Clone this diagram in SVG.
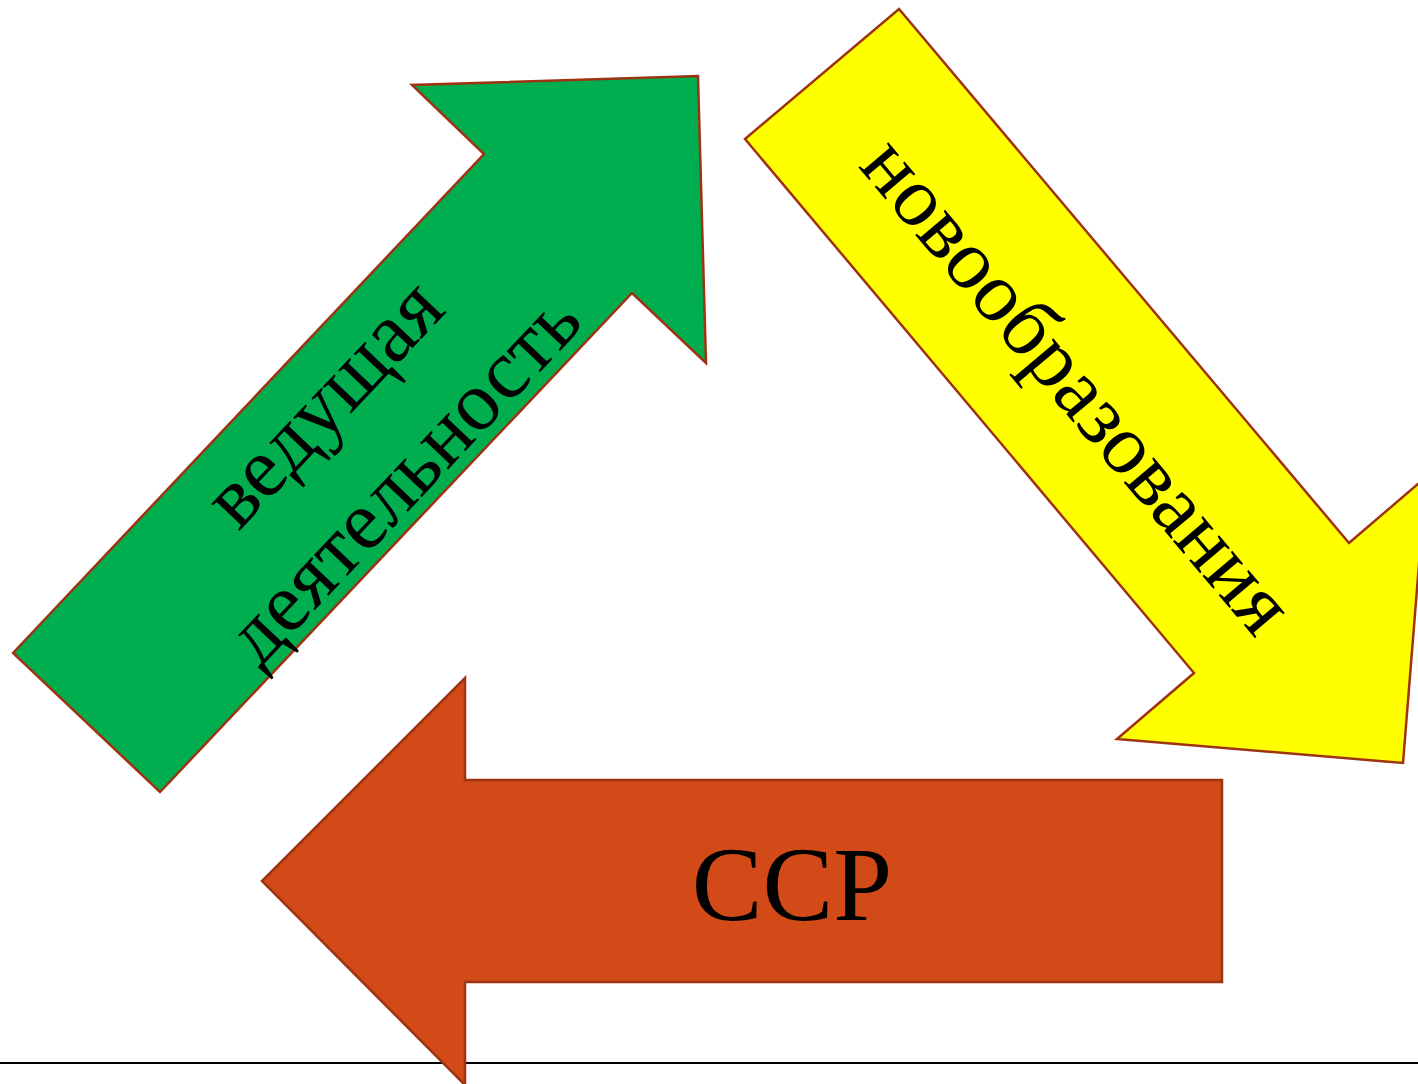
<svg xmlns="http://www.w3.org/2000/svg" width="1418" height="1084" viewBox="0 0 1418 1084">
<style>
.arrow{stroke:#9E3312;stroke-width:2.5;stroke-linejoin:miter}
.lbl{font-family:"Liberation Serif","Times New Roman",serif;fill:#000;text-anchor:middle}
</style>
<rect width="1418" height="1084" fill="#fff"/>
<line x1="0" y1="1063" x2="1418" y2="1063" stroke="#000" stroke-width="2"/>
<g id="connectors"></g>
<g id="green">
<polygon class="arrow" fill="#00AE50" points="13,653 484,154 412,85 698,76 706,363 632,293 160,792"/>
<g transform="translate(370,447) rotate(-46.6)">
<text class="lbl" x="0" y="-37" font-size="85">ведущая</text>
<text class="lbl" x="0" y="72" font-size="84">деятельность</text>
</g>
</g>
<g id="yellow">
<polygon class="arrow" fill="#FFFF00" points="745,139 899,9 1349,543 1426,477 1403,763 1117,739 1194,673"/>
<text class="lbl" font-size="85" transform="translate(1072,390) rotate(49.9)" x="0" y="20">новообразования</text>
</g>
<g id="red">
<polygon class="arrow" fill="#D14A18" points="1222,780 1222,982 465,982 465,1085 262,881 465,678 465,780"/>
<text class="lbl" x="792" y="920" font-size="106">ССР</text>
</g>
</svg>
